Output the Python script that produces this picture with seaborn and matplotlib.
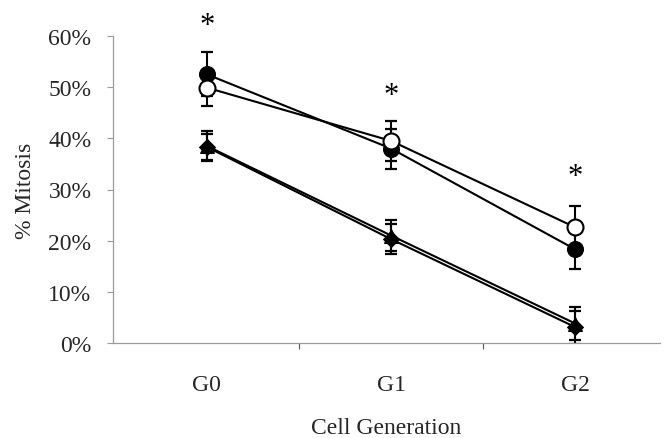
import matplotlib
matplotlib.use("Agg")
import matplotlib.pyplot as plt
import seaborn as sns
import pandas as pd
import numpy as np
from matplotlib.ticker import FuncFormatter, FixedLocator

generations = ["G0", "G1", "G2"]
filled_circle = [52.5, 38.0, 18.3]
filled_circle_err = [4.3, 3.9, 3.8]
open_circle = [49.9, 39.5, 22.6]
open_circle_err = [3.5, 3.9, 4.1]
triangle = [38.5, 21.0, 3.8]
triangle_err = [3.0, 3.1, 3.2]
diamond = [38.3, 20.3, 3.1]
diamond_err = [2.5, 2.9, 3.2]
asterisk_y = [62.9, 49.2, 33.4]
y_ticks = [0, 10, 20, 30, 40, 50, 60]

sns.set_theme(style="white")
plt.rcParams["font.family"] = ["Liberation Serif", "DejaVu Serif"]

fig = plt.figure(figsize=(6.67, 4.39), dpi=100)
ax = fig.add_axes([113 / 667, 1 - 344 / 439, (660 - 113) / 667, (344 - 37) / 439])

x = np.arange(len(generations))
series = [
    ("filled", filled_circle, filled_circle_err, dict(marker="o", markersize=11.5, markerfacecolor="black", markeredgecolor="black")),
    ("open", open_circle, open_circle_err, dict(marker="o", markersize=11.5, markerfacecolor="white", markeredgecolor="black", markeredgewidth=1.5)),
    ("triangle", triangle, triangle_err, dict(marker="^", markersize=10, markerfacecolor="black", markeredgecolor="black")),
    ("diamond", diamond, diamond_err, dict(marker="D", markersize=8, markerfacecolor="black", markeredgecolor="black")),
]

for name, vals, errs, mk in series:
    df = pd.DataFrame({"x": x, "y": vals})
    ax.errorbar(x, vals, yerr=errs, fmt="none", ecolor="black", elinewidth=1.5,
                capsize=4.5, capthick=1.6, zorder=2)
    sns.lineplot(data=df, x="x", y="y", ax=ax, color="black", linewidth=1.5,
                 zorder=3, **mk)

for xi, yi in zip(x, asterisk_y):
    ax.annotate("*", xy=(xi, yi), xytext=(0, -4), textcoords="offset pixels",
                ha="center", va="center", fontsize=22, color="black",
                annotation_clip=False)

ax.set_xlim(-0.51, 2.46)
ax.set_ylim(0, 60)
ax.set_yticks(y_ticks)
ax.yaxis.set_major_formatter(FuncFormatter(lambda v, p: f"{v:.0f}%"))
ax.set_xticks(x)
ax.set_xticklabels(generations)
ax.xaxis.set_minor_locator(FixedLocator([0.5, 1.5]))

for s in ["top", "right"]:
    ax.spines[s].set_visible(False)
for s in ["left", "bottom"]:
    ax.spines[s].set_color("#9a9a9a")
    ax.spines[s].set_linewidth(0.9)

ax.tick_params(axis="y", which="major", direction="out", length=4.5, width=0.8,
               color="#9a9a9a", pad=11, labelsize=17, left=True)
ax.tick_params(axis="x", which="major", length=0, pad=22, labelsize=17)
ax.tick_params(axis="x", which="minor", direction="out", length=4.5, width=0.8,
               color="#555555", bottom=True)

ax.set_xlabel("Cell Generation", fontsize=17, labelpad=16)
ax.set_ylabel("% Mitosis", fontsize=17, labelpad=9)
ax.grid(False)
ax.set_facecolor("white")
fig.patch.set_facecolor("white")

fig.savefig("out.png", dpi=100, facecolor="white")
